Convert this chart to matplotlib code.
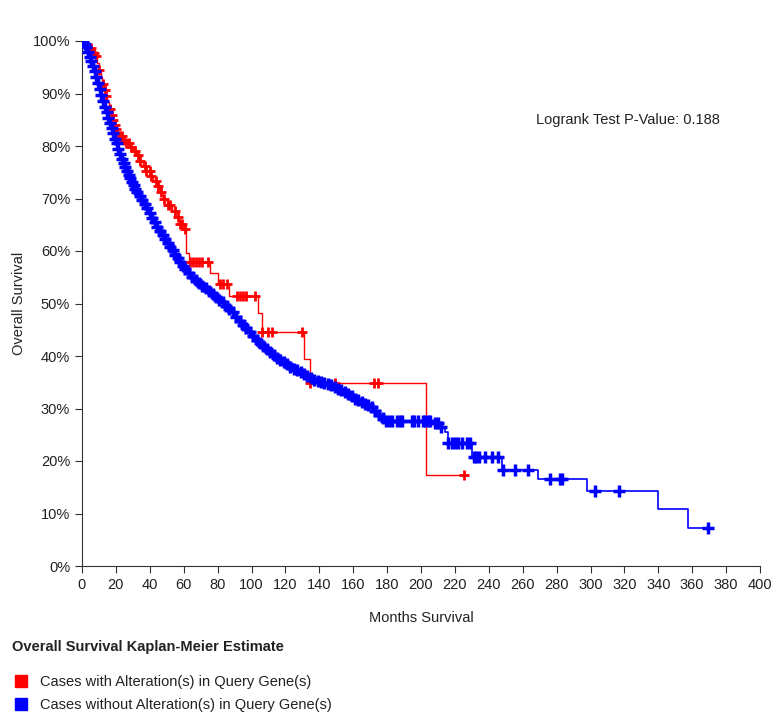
import matplotlib.pyplot as plt
import numpy as np
from matplotlib.lines import Line2D

plt.rcParams['font.family'] = ['Liberation Sans', 'DejaVu Sans']

# altered group: step times (months) and survival (%) after each step
red_t = [0, 2, 4, 6, 8, 9, 10, 11, 12, 13, 14, 15, 16, 17, 18, 19, 20, 21, 22,
         24, 26, 28, 30, 32, 34, 36, 38, 40, 42, 44, 46, 48, 50, 53, 55, 57, 60,
         61.5, 63, 75.5, 80, 87, 104, 106, 131, 134.5, 203, 225.4]
red_s = [100, 99.3, 98.6, 97.8, 97.1, 95.8, 94.5, 93.2, 91.9, 90.6, 89.5, 88.3,
         87, 86, 85, 84, 83.2, 82.5, 81.9, 81.2, 80.6, 79.9, 79, 78.2, 77.2, 76.1,
         75.2, 74.3, 73.4, 72.4, 71.2, 70, 68.8, 67.6, 66.4, 65.2, 64.1, 59.7, 58,
         55.9, 53.8, 51.4, 48.1, 44.6, 39.5, 34.8, 17.4, 17.4]
red_cens = [5.5, 7, 8.4, 10, 12.4, 13.5, 14.4, 16.3, 17.5, 18.3, 19.5, 20.2, 22.2,
            23.5, 25, 26.1, 27.5, 29.1, 31, 33, 34.5, 37, 38, 39.9, 41, 43.8, 45,
            46.8, 48.5, 50.7, 52, 54.7, 56.6, 58, 59, 60.6, 64, 65.5, 67, 69, 71,
            74.5, 81.5, 83, 85.5, 91.5, 93, 95, 97, 102, 106, 110, 112, 129.6,
            134.6, 149.3, 172, 174.5, 225.4]

# unaltered group
blue_t = [0, 1, 2, 3, 4, 5, 6, 7, 8, 9, 10, 11, 12, 13, 14, 15, 16, 17, 18, 19,
          20, 21, 22, 23, 24, 25, 26, 27, 28, 29, 30, 31, 32, 33.5, 35, 36.5, 38,
          39.5, 41, 42.5, 44, 45.5, 47, 48.5, 50, 51.5, 53, 54.5, 56, 57.5, 59,
          60.5, 62, 64, 66, 68, 70, 72, 74, 76, 78, 80, 82, 84, 86, 88, 90, 92,
          94, 96, 98, 100, 102, 104, 106, 108, 110, 112, 114, 116, 118, 120, 122,
          124, 126, 128, 130, 132, 134, 136, 138, 140, 142, 144, 146, 148, 150,
          152, 154, 156, 158, 160, 162, 164, 166, 168, 170, 172, 174, 176, 178,
          207, 211, 214, 216, 230, 247.6, 269.2, 298.1, 340, 357.7, 369.5]
blue_s = [100, 99.5, 98.8, 97.9, 97.0, 96.1, 95.2, 94.3, 93.1, 92.0, 90.9, 89.8,
          88.6, 87.5, 86.4, 85.3, 84.3, 83.4, 82.4, 81.4, 80.5, 79.5, 78.5, 77.6,
          76.8, 76.0, 75.3, 74.5, 73.9, 73.2, 72.6, 71.9, 71.2, 70.4, 69.7, 68.9,
          68.1, 67.2, 66.3, 65.5, 64.6, 63.9, 63.1, 62.3, 61.6, 60.8, 60.1, 59.3,
          58.6, 57.9, 57.2, 56.5, 55.8, 55.0, 54.4, 53.9, 53.4, 52.9, 52.3, 51.8,
          51.3, 50.7, 50.2, 49.6, 49.0, 48.3, 47.5, 46.7, 45.9, 45.3, 44.6, 43.8,
          43.1, 42.4, 41.9, 41.3, 40.7, 40.1, 39.6, 39.2, 38.8, 38.4, 38.0, 37.6,
          37.3, 36.9, 36.5, 36.2, 35.8, 35.5, 35.3, 35.1, 34.9, 34.7, 34.4, 34.1,
          33.8, 33.5, 33.1, 32.7, 32.3, 31.9, 31.6, 31.3, 30.9, 30.6, 30.2, 29.6,
          28.8, 28.1, 27.7, 27.2, 26.5, 25.5, 23.4, 20.8, 18.3, 16.5, 14.3, 10.8,
          7.3, 7.3]
blue_cens = [0.5, 1.5, 2.5, 3.5, 4.5, 5.5, 6.5, 7.5, 8.5, 9.5, 10.5, 11.5, 12.5,
             13.5, 14.5, 15.5, 16.5, 17.5, 18.5, 19.5, 20.5, 21.5, 22.5, 23.5,
             24.5, 25.5, 26.5, 27.5, 28.5, 29.5, 30.5, 31.5, 32.5, 34, 35.5, 37,
             38.5, 40, 41.5, 43, 44.5, 46, 47.5, 49, 50.5, 52, 53.5, 55, 56.5, 58,
             59.5, 61, 63, 65, 67, 69, 71, 73, 75, 77, 79, 81, 83, 85, 87, 89, 91,
             93, 95, 97, 99, 101, 103, 105, 107, 109, 111, 113, 115, 117, 119, 121,
             123, 125, 127, 129, 131, 133, 135, 137, 139, 141, 143, 145, 147, 149,
             151, 153, 155, 157, 159, 161, 163, 165, 167, 169, 171, 173, 175,
             177.7, 179.5, 181, 183, 186, 187.5, 189, 194.6, 196, 198, 201, 202.5,
             204, 205.5, 208, 210, 212, 216, 218, 220, 222, 224, 227, 229, 231,
             232.5, 234, 237.8, 241.7, 245.4, 248.6, 255.5, 263, 276, 282, 283,
             302.7, 317, 369.5]

x_ticks = list(range(0, 401, 20))
y_ticks = list(range(0, 101, 10))
p_value = 0.188


def surv_at(times, surv, t):
    idx = np.searchsorted(times, t, side='right') - 1
    return np.array(surv)[idx]


fig = plt.figure(figsize=(7.76, 7.13), dpi=100)
ax = fig.add_axes([82 / 776, 1 - 566 / 713, 678 / 776, 525 / 713])

ax.plot(red_t, red_s, drawstyle='steps-post', color='#ff0000', lw=1, zorder=2)
ax.plot(red_cens, surv_at(red_t, red_s, red_cens), '+', color='#ff0000',
        ms=7, mew=2, zorder=3)
ax.plot(blue_t, blue_s, drawstyle='steps-post', color='#0000ff', lw=1.2, zorder=4)
ax.plot(blue_cens, surv_at(blue_t, blue_s, blue_cens), '+', color='#0000ff',
        ms=8, mew=2.5, zorder=5)

ax.set_xlim(0, 400)
ax.set_ylim(0, 100)
ax.set_xticks(x_ticks)
ax.set_yticks(y_ticks)
ax.set_yticklabels([f'{v}%' for v in y_ticks])
ax.tick_params(labelsize=10.5, length=5, color='#333333', labelcolor='#222222')
for s in ['top', 'right']:
    ax.spines[s].set_visible(False)
for s in ['left', 'bottom']:
    ax.spines[s].set_color('#333333')

ax.set_xlabel('Months Survival', fontsize=10.5, labelpad=14, color='#222222')
ax.set_ylabel('Overall Survival', fontsize=10.5, labelpad=5, color='#222222')
ax.text(268, 85, f'Logrank Test P-Value: {p_value}', fontsize=10.5,
        va='center', color='#222222')

fig.text(12 / 776, 1 - 647 / 713, 'Overall Survival Kaplan-Meier Estimate',
         fontsize=10.5, fontweight='bold', va='center', color='#222222')
handles = [Line2D([], [], ls='none', marker='s', ms=9, color='#ff0000'),
           Line2D([], [], ls='none', marker='s', ms=9, color='#0000ff')]
fig.legend(handles, ['Cases with Alteration(s) in Query Gene(s)',
                     'Cases without Alteration(s) in Query Gene(s)'],
           loc='upper left', bbox_to_anchor=(6 / 776, 1 - 668 / 713),
           frameon=False, fontsize=10.5, handlelength=1, handletextpad=0.8,
           labelspacing=0.6, borderpad=0, labelcolor='#222222')

fig.savefig('out.png', dpi=100)
